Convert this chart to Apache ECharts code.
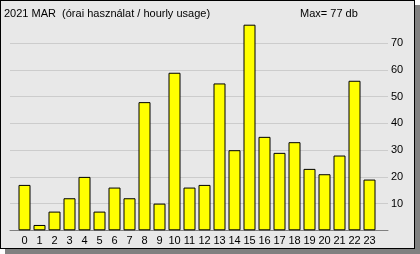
<!DOCTYPE html>
<html>
<head>
<meta charset="utf-8">
<script src="https://cdn.jsdelivr.net/npm/echarts@6/dist/echarts.min.js"></script>
<style>
html,body{margin:0;padding:0;width:420px;height:254px;background:#ffffff;overflow:hidden;}
#frame{position:absolute;left:0;top:0;width:413px;height:247px;border:1px solid #000;background:#e8e8e8;box-shadow:5px 5px 0 #808080;}
#chart{position:absolute;left:0;top:0;width:420px;height:254px;}
</style>
</head>
<body>
<div id="frame"></div>
<div id="chart"></div>
<script>
const hours = ['0','1','2','3','4','5','6','7','8','9','10','11','12','13','14','15','16','17','18','19','20','21','22','23'];
const usage = [17, 2, 7, 12, 20, 7, 16, 12, 48, 10, 59, 16, 17, 55, 30, 77, 35, 29, 33, 23, 21, 28, 56, 19];
const titleText = '2021 MAR  (órai használat / hourly usage)';
const maxText = 'Max= 77 db';

const FONT = 'Liberation Sans';
const FS = 11;
const chart = echarts.init(document.getElementById('chart'), null, {renderer: 'canvas'});
chart.setOption({
  animation: false,
  backgroundColor: 'transparent',
  title: [
    {text: titleText, left: 4, top: 8, padding: 0, textStyle: {fontFamily: FONT, fontSize: FS, fontWeight: 'normal', color: '#000'}},
    {text: maxText, left: 300, top: 8, padding: 0, textStyle: {fontFamily: FONT, fontSize: FS, fontWeight: 'normal', color: '#000'}}
  ],
  grid: [
    {left: 10, right: 32, top: 43.3, bottom: 23.7, containLabel: false},
    {left: 17, right: 43, top: 24.7, bottom: 23.7, containLabel: false}
  ],
  xAxis: [
    {gridIndex: 0, type: 'value', min: 0, max: 1, show: true,
     axisLine: {show: true, onZero: false, lineStyle: {color: '#808080', width: 1}},
     axisTick: {show: false}, axisLabel: {show: false}, splitLine: {show: false}},
    {gridIndex: 1, type: 'category', data: hours, boundaryGap: true,
     axisLine: {show: false}, axisTick: {show: false},
     axisLabel: {show: true, interval: 0, margin: 5, fontFamily: FONT, fontSize: FS, color: '#000'},
     splitLine: {show: false}}
  ],
  yAxis: [
    {gridIndex: 0, type: 'value', min: 0, max: 70, interval: 10, position: 'right',
     axisLine: {show: false}, axisTick: {show: false},
     axisLabel: {show: true, showMinLabel: false, margin: 3, fontFamily: FONT, fontSize: FS, color: '#000'},
     splitLine: {show: true, lineStyle: {color: '#cccccc', width: 1}}},
    {gridIndex: 1, type: 'value', min: 0, max: 77, show: false, splitLine: {show: false}}
  ],
  series: [
    {type: 'bar', xAxisIndex: 1, yAxisIndex: 1, data: usage, barWidth: 12,
     itemStyle: {color: '#ffff00', borderColor: '#000000', borderWidth: 1}}
  ]
});
</script>
</body>
</html>
